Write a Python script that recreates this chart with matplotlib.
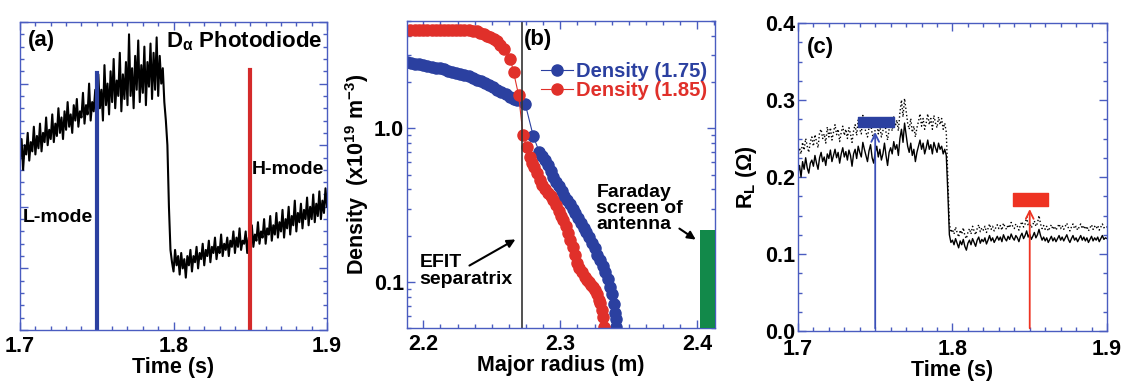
import numpy as np
import matplotlib
matplotlib.use('Agg')
import matplotlib.pyplot as plt
from matplotlib.ticker import MultipleLocator, NullFormatter, LogLocator

plt.rcParams.update({
    'font.family': ['Liberation Sans', 'DejaVu Sans'],
    'font.weight': 'bold',
    'axes.labelweight': 'bold',
    'font.size': 15,
    'mathtext.fontset': 'custom',
    'mathtext.rm': 'Liberation Sans:bold',
    'mathtext.it': 'Liberation Sans:bold:italic',
    'mathtext.bf': 'Liberation Sans:bold',
})

# ---- panel (a): D-alpha photodiode, 1.700 .. 1.900 s, step 1 ms ----
t_a_start, t_a_stop = 1.700, 1.900
dalpha = [
    0.55, 0.62, 0.52, 0.60, 0.57, 0.64, 0.55, 0.61, 0.58, 0.66,
    0.57, 0.63, 0.59, 0.67, 0.58, 0.64, 0.61, 0.69, 0.60, 0.65,
    0.62, 0.70, 0.61, 0.67, 0.63, 0.72, 0.64, 0.69, 0.62, 0.71,
    0.65, 0.74, 0.66, 0.70, 0.64, 0.73, 0.68, 0.75, 0.66, 0.71,
    0.69, 0.77, 0.67, 0.73, 0.70, 0.80, 0.68, 0.74, 0.71, 0.78,
    0.70, 0.83, 0.72, 0.78, 0.68, 0.86, 0.73, 0.80, 0.70, 0.84,
    0.74, 0.88, 0.72, 0.81, 0.76, 0.90, 0.71, 0.83, 0.75, 0.87,
    0.73, 0.96, 0.76, 0.85, 0.72, 0.89, 0.78, 0.94, 0.74, 0.86,
    0.77, 0.92, 0.73, 0.87, 0.79, 0.93, 0.75, 0.90, 0.78, 0.95,
    0.76, 0.89, 0.80, 0.85, 0.74, 0.68, 0.60, 0.40, 0.26, 0.22,
    0.19, 0.26, 0.21, 0.24, 0.18, 0.25, 0.20, 0.23, 0.17, 0.24,
    0.21, 0.26, 0.19, 0.24, 0.22, 0.27, 0.20, 0.25, 0.23, 0.28,
    0.21, 0.26, 0.24, 0.29, 0.22, 0.27, 0.25, 0.30, 0.23, 0.27,
    0.25, 0.31, 0.24, 0.28, 0.26, 0.30, 0.24, 0.29, 0.27, 0.32,
    0.25, 0.30, 0.27, 0.33, 0.26, 0.29, 0.28, 0.32, 0.25, 0.30,
    0.28, 0.34, 0.27, 0.31, 0.29, 0.35, 0.28, 0.32, 0.30, 0.36,
    0.28, 0.33, 0.31, 0.37, 0.29, 0.34, 0.31, 0.38, 0.30, 0.35,
    0.32, 0.39, 0.30, 0.36, 0.33, 0.40, 0.31, 0.37, 0.34, 0.42,
    0.32, 0.38, 0.35, 0.41, 0.33, 0.39, 0.36, 0.43, 0.34, 0.40,
    0.36, 0.44, 0.35, 0.41, 0.37, 0.45, 0.36, 0.42, 0.38, 0.46,
    0.40,
]
t_lmode, t_hmode = 1.75, 1.85
lmode_top, hmode_top = 0.834, 0.844

# ---- panel (b): density profiles ----
r_175 = [2.188, 2.191, 2.194, 2.197, 2.200, 2.203, 2.206, 2.209, 2.212, 2.215,
         2.218, 2.221, 2.224, 2.227, 2.230, 2.233, 2.236, 2.239, 2.242, 2.245,
         2.248, 2.251, 2.254, 2.257, 2.260, 2.263, 2.266, 2.2685, 2.2745, 2.2803,
         2.2847, 2.287, 2.289, 2.291, 2.293, 2.295, 2.297, 2.299, 2.301, 2.303,
         2.305, 2.307, 2.309, 2.311, 2.313, 2.315, 2.317, 2.319, 2.321, 2.323,
         2.325, 2.327, 2.329, 2.331, 2.333, 2.335, 2.3365, 2.3378, 2.339, 2.340,
         2.3405, 2.341]
n_175 = [2.70, 2.67, 2.64, 2.61, 2.58, 2.55, 2.52, 2.49, 2.46, 2.42,
         2.38, 2.34, 2.30, 2.26, 2.22, 2.18, 2.12, 2.07, 2.02, 1.96,
         1.91, 1.85, 1.79, 1.73, 1.67, 1.61, 1.56, 1.52, 1.43, 0.887,
         0.70, 0.66, 0.62, 0.58, 0.53, 0.48, 0.45, 0.42, 0.39, 0.365,
         0.341, 0.32, 0.30, 0.28, 0.26, 0.24, 0.225, 0.21, 0.195, 0.18,
         0.165, 0.15, 0.138, 0.127, 0.116, 0.105, 0.093, 0.083, 0.072, 0.063,
         0.057, 0.051]
r_185 = [2.1905, 2.194, 2.197, 2.200, 2.203, 2.206, 2.209, 2.212, 2.215, 2.218,
         2.221, 2.224, 2.227, 2.230, 2.233, 2.236, 2.239, 2.2416, 2.244, 2.2465,
         2.249, 2.2515, 2.254, 2.2563, 2.2586, 2.2635, 2.2659, 2.2696, 2.2728, 2.2757,
         2.2781, 2.2793, 2.281, 2.283, 2.2854, 2.287, 2.289, 2.291, 2.293, 2.295,
         2.297, 2.299, 2.3005, 2.3022, 2.304, 2.3055, 2.3073, 2.309, 2.3105, 2.3122,
         2.314, 2.316, 2.318, 2.3195, 2.321, 2.3225, 2.324, 2.3255, 2.327, 2.3285,
         2.3292, 2.3302, 2.3312, 2.3316]
n_185 = [4.37, 4.37, 4.37, 4.37, 4.37, 4.36, 4.36, 4.36, 4.36, 4.36,
         4.35, 4.35, 4.35, 4.34, 4.34, 4.32, 4.28, 4.18, 4.10, 4.02,
         3.96, 3.82, 3.69, 3.50, 3.29, 2.84, 2.32, 1.64, 0.90, 0.756,
         0.651, 0.593, 0.56, 0.51, 0.459, 0.43, 0.405, 0.38, 0.36, 0.341,
         0.315, 0.29, 0.27, 0.253, 0.23, 0.208, 0.187, 0.168, 0.15, 0.133,
         0.123, 0.115, 0.108, 0.103, 0.099, 0.096, 0.093, 0.0887, 0.083, 0.076,
         0.0731, 0.066, 0.0593, 0.051]
r_separatrix = 2.272
faraday_r = [2.402, 2.413]
faraday_top = 0.218

# ---- panel (c): loading resistance, 1.700 .. 1.900 s, step 1 ms ----
rl_lower = [
    0.205, 0.215, 0.200, 0.220, 0.210, 0.225, 0.212, 0.205, 0.218, 0.222,
    0.214, 0.228, 0.218, 0.210, 0.225, 0.232, 0.220, 0.226, 0.215, 0.230,
    0.224, 0.235, 0.220, 0.228, 0.236, 0.225, 0.232, 0.218, 0.230, 0.238,
    0.226, 0.233, 0.222, 0.235, 0.228, 0.214, 0.230, 0.236, 0.224, 0.240,
    0.232, 0.226, 0.245, 0.236, 0.228, 0.220, 0.234, 0.242, 0.225, 0.218,
    0.232, 0.240, 0.226, 0.236, 0.222, 0.230, 0.244, 0.228, 0.215, 0.232,
    0.238, 0.230, 0.246, 0.236, 0.242, 0.228, 0.250, 0.262, 0.245, 0.270,
    0.255, 0.240, 0.232, 0.244, 0.228, 0.236, 0.220, 0.232, 0.240, 0.248,
    0.236, 0.244, 0.230, 0.238, 0.248, 0.236, 0.242, 0.230, 0.245, 0.238,
    0.232, 0.244, 0.236, 0.240, 0.230, 0.236, 0.228, 0.180, 0.125, 0.115,
    0.118, 0.112, 0.120, 0.114, 0.108, 0.117, 0.112, 0.119, 0.110, 0.105,
    0.114, 0.118, 0.112, 0.120, 0.115, 0.110, 0.118, 0.122, 0.114, 0.119,
    0.116, 0.121, 0.113, 0.118, 0.124, 0.117, 0.121, 0.115, 0.119, 0.123,
    0.118, 0.122, 0.116, 0.125, 0.120, 0.117, 0.123, 0.119, 0.126, 0.121,
    0.118, 0.124, 0.121, 0.116, 0.123, 0.127, 0.120, 0.124, 0.130, 0.122,
    0.126, 0.119, 0.123, 0.128, 0.121, 0.125, 0.132, 0.124, 0.118, 0.122,
    0.117, 0.121, 0.115, 0.119, 0.123, 0.117, 0.121, 0.116, 0.120, 0.124,
    0.118, 0.122, 0.117, 0.121, 0.125, 0.119, 0.115, 0.120, 0.124, 0.118,
    0.121, 0.116, 0.120, 0.124, 0.118, 0.122, 0.117, 0.121, 0.115, 0.119,
    0.123, 0.117, 0.121, 0.118, 0.122, 0.116, 0.120, 0.124, 0.119, 0.121,
    0.120,
]
rl_upper = [
    0.225, 0.238, 0.230, 0.245, 0.235, 0.250, 0.240, 0.232, 0.246, 0.252,
    0.240, 0.255, 0.246, 0.238, 0.258, 0.262, 0.250, 0.256, 0.244, 0.265,
    0.252, 0.264, 0.248, 0.258, 0.268, 0.255, 0.262, 0.246, 0.258, 0.266,
    0.254, 0.262, 0.250, 0.264, 0.256, 0.245, 0.260, 0.268, 0.254, 0.274,
    0.262, 0.256, 0.280, 0.266, 0.258, 0.252, 0.264, 0.272, 0.256, 0.250,
    0.262, 0.270, 0.256, 0.266, 0.252, 0.260, 0.276, 0.258, 0.248, 0.262,
    0.268, 0.260, 0.278, 0.266, 0.274, 0.260, 0.284, 0.300, 0.278, 0.302,
    0.286, 0.270, 0.262, 0.276, 0.258, 0.266, 0.252, 0.264, 0.272, 0.282,
    0.266, 0.276, 0.262, 0.270, 0.282, 0.268, 0.276, 0.262, 0.280, 0.270,
    0.264, 0.278, 0.268, 0.276, 0.262, 0.270, 0.258, 0.200, 0.140, 0.128,
    0.132, 0.126, 0.135, 0.128, 0.122, 0.131, 0.126, 0.134, 0.124, 0.120,
    0.128, 0.133, 0.126, 0.136, 0.130, 0.125, 0.133, 0.138, 0.129, 0.134,
    0.131, 0.136, 0.128, 0.133, 0.139, 0.132, 0.136, 0.130, 0.134, 0.138,
    0.133, 0.137, 0.131, 0.140, 0.135, 0.132, 0.138, 0.134, 0.141, 0.136,
    0.133, 0.139, 0.136, 0.131, 0.138, 0.142, 0.135, 0.139, 0.148, 0.137,
    0.141, 0.134, 0.138, 0.143, 0.136, 0.140, 0.150, 0.139, 0.133, 0.137,
    0.132, 0.136, 0.130, 0.134, 0.138, 0.132, 0.136, 0.131, 0.135, 0.139,
    0.133, 0.137, 0.132, 0.136, 0.140, 0.134, 0.130, 0.135, 0.139, 0.133,
    0.136, 0.131, 0.135, 0.139, 0.133, 0.137, 0.132, 0.136, 0.130, 0.134,
    0.138, 0.132, 0.136, 0.133, 0.137, 0.131, 0.135, 0.139, 0.134, 0.136,
    0.135,
]
blue_bar_t = [1.739, 1.762]
blue_bar_rl = [0.265, 0.278]
red_bar_t = [1.839, 1.862]
red_bar_rl = [0.162, 0.179]
blue_arrow_top = 0.262
red_arrow_top = 0.162

BLUE = '#2b40a0'
RED = '#e0302a'
GREEN = '#12894a'
SPINE = '#4a5cc0'

t_a = np.linspace(t_a_start, t_a_stop, len(dalpha))
t_c = np.linspace(t_a_start, t_a_stop, len(rl_lower))

fig = plt.figure(figsize=(11.32, 3.88), dpi=100)
ax_a = fig.add_axes([0.0177, 0.1495, 0.2712, 0.7938])
ax_b = fig.add_axes([0.3595, 0.1546, 0.2721, 0.7912])
ax_c = fig.add_axes([0.7049, 0.1469, 0.2730, 0.7938])


def style_axes(ax):
    for sp in ax.spines.values():
        sp.set_color(SPINE)
        sp.set_linewidth(1.0)
    ax.tick_params(which='both', direction='in', top=True, right=True,
                   color=SPINE, labelsize=15.5, pad=4)
    ax.tick_params(which='major', length=6, width=1)
    ax.tick_params(which='minor', length=3, width=1)
    for lbl in ax.get_xticklabels() + ax.get_yticklabels():
        lbl.set_fontweight('bold')


# (a)
ax_a.plot(t_a, dalpha, color='black', lw=1.5)
ax_a.plot([t_lmode, t_lmode], [0, lmode_top], color=BLUE, lw=3)
ax_a.plot([t_hmode, t_hmode], [0, hmode_top], color='#d42a2a', lw=3)
ax_a.set_xlim(1.7, 1.9)
ax_a.set_ylim(0, 1)
ax_a.xaxis.set_major_locator(MultipleLocator(0.1))
ax_a.xaxis.set_minor_locator(MultipleLocator(0.01))
ax_a.yaxis.set_major_locator(MultipleLocator(0.2))
ax_a.yaxis.set_minor_locator(MultipleLocator(0.04))
ax_a.yaxis.set_major_formatter(NullFormatter())
ax_a.xaxis.set_major_formatter(plt.FuncFormatter(lambda v, p: f'{v:.1f}'))
style_axes(ax_a)
ax_a.set_xlabel('Time (s)', fontsize=15.5, labelpad=0)
ax_a.text(0.025, 0.975, '(a)', transform=ax_a.transAxes, fontsize=16, va='top', ha='left')
ax_a.text(0.985, 0.975, r'D$_{\mathregular{\alpha}}$ Photodiode', transform=ax_a.transAxes,
          fontsize=16, va='top', ha='right')
ax_a.text(0.01, 0.364, 'L-mode', transform=ax_a.transAxes, fontsize=14, va='center', ha='left')
ax_a.text(0.755, 0.52, 'H-mode', transform=ax_a.transAxes, fontsize=14, va='center', ha='left')

# (b)
ax_b.plot(r_175, n_175, '-o', color=BLUE, lw=0.8, ms=8, mec=BLUE, label='Density (1.75)')
ax_b.plot(r_185, n_185, '-o', color=RED, lw=0.8, ms=8, mec=RED, label='Density (1.85)')
ax_b.axvline(r_separatrix, color='#333333', lw=1.2)
ax_b.bar(faraday_r[0], faraday_top - 0.05, bottom=0.05, width=faraday_r[1] - faraday_r[0],
         align='edge', color=GREEN, zorder=3)
ax_b.set_yscale('log')
ax_b.set_xlim(2.188, 2.413)
ax_b.set_ylim(0.05, 5)
ax_b.set_yticks([0.1, 1.0])
ax_b.set_yticklabels(['0.1', '1.0'])
ax_b.yaxis.set_minor_locator(LogLocator(base=10, subs=np.arange(2, 10)))
ax_b.yaxis.set_minor_formatter(NullFormatter())
ax_b.xaxis.set_major_locator(MultipleLocator(0.1))
ax_b.xaxis.set_minor_locator(MultipleLocator(0.0125))
ax_b.xaxis.set_major_formatter(plt.FuncFormatter(lambda v, p: f'{v:.1f}'))
style_axes(ax_b)
ax_b.tick_params(axis='y', pad=2)
ax_b.set_xlabel('Major radius (m)', fontsize=15.5, labelpad=0)
ax_b.set_ylabel(r'Density  (x10$^{\mathregular{19}}$ m$^{\mathregular{-3}}$)', fontsize=15.5, labelpad=2)
ax_b.text(0.38, 0.975, '(b)', transform=ax_b.transAxes, fontsize=16, va='top', ha='left')
leg = ax_b.legend(loc='upper right', bbox_to_anchor=(0.975, 0.865), frameon=False,
                  handlelength=1.6, handletextpad=0.15, labelspacing=0.0,
                  borderpad=0, borderaxespad=0, labelcolor='linecolor',
                  prop={'size': 14.5, 'weight': 'bold'})
ax_b.text(0.04, 0.186, 'EFIT\nseparatrix', transform=ax_b.transAxes, fontsize=14,
          va='center', ha='left', linespacing=0.95)
ax_b.annotate('', xy=(0.36, 0.293), xytext=(0.195, 0.199), xycoords='axes fraction',
              arrowprops=dict(arrowstyle='-|>', color='black', lw=1.5, mutation_scale=12))
ax_b.text(0.615, 0.389, 'Faraday\nscreen of\nantenna', transform=ax_b.transAxes, fontsize=14,
          va='center', ha='left', linespacing=0.95)
ax_b.annotate('', xy=(0.945, 0.283), xytext=(0.877, 0.329), xycoords='axes fraction',
              arrowprops=dict(arrowstyle='-|>', color='black', lw=1.5, mutation_scale=12))

# (c)
ax_c.plot(t_c, rl_lower, color='black', lw=1.0)
ax_c.plot(t_c, rl_upper, color='black', lw=1.0, ls=':')
ax_c.fill_between(blue_bar_t, blue_bar_rl[0], blue_bar_rl[1], color=BLUE, zorder=3)
ax_c.fill_between(red_bar_t, red_bar_rl[0], red_bar_rl[1], color='#ee3322', zorder=3)
ax_c.annotate('', xy=(t_lmode, blue_arrow_top), xytext=(t_lmode, 0),
              arrowprops=dict(arrowstyle='->', color='#3a4fb8', lw=1.3, mutation_scale=14))
ax_c.annotate('', xy=(t_hmode, red_arrow_top), xytext=(t_hmode, 0),
              arrowprops=dict(arrowstyle='->', color='#ee3322', lw=1.3, mutation_scale=14))
ax_c.set_xlim(1.7, 1.9)
ax_c.set_ylim(0, 0.4)
ax_c.xaxis.set_major_locator(MultipleLocator(0.1))
ax_c.xaxis.set_minor_locator(MultipleLocator(0.01))
ax_c.yaxis.set_major_locator(MultipleLocator(0.1))
ax_c.yaxis.set_minor_locator(MultipleLocator(0.025))
ax_c.xaxis.set_major_formatter(plt.FuncFormatter(lambda v, p: f'{v:.1f}'))
ax_c.yaxis.set_major_formatter(plt.FuncFormatter(lambda v, p: f'{v:.1f}'))
style_axes(ax_c)
ax_c.tick_params(axis='y', pad=2)
ax_c.tick_params(axis='x', pad=6)
for lbl in ax_c.get_yticklabels():
    lbl.set_verticalalignment('center_baseline')
ax_c.set_xlabel('Time (s)', fontsize=15.5, labelpad=0)
ax_c.set_ylabel(r'R$_{\mathregular{L}}$ ($\Omega$)', fontsize=15.5, labelpad=4)
ax_c.text(0.03, 0.955, '(c)', transform=ax_c.transAxes, fontsize=16, va='top', ha='left')

fig.savefig('out.png', dpi=100)
